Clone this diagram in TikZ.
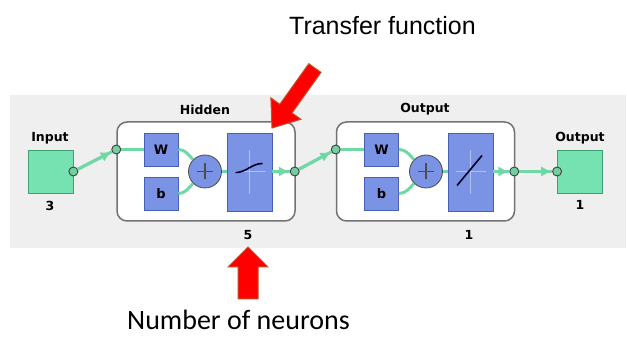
\documentclass[tikz,border=0pt]{standalone}
\usepackage{fontspec}
\usepackage{tikz}
\usetikzlibrary{arrows.meta}
\usetikzlibrary{positioning}
\pgfdeclarelayer{background layer}
\pgfsetlayers{background layer,main}
\newfontfamily\nnfont{DejaVu Sans}
\newfontfamily\arialfont{Liberation Sans}
\newfontfamily\califont{Carlito}
\definecolor{nngreen}{HTML}{76E2B2}
\definecolor{nngreenD}{HTML}{3E9E74}
\definecolor{nnblue}{HTML}{7A93E4}
\definecolor{nnblueD}{HTML}{4660B8}
\definecolor{nnlink}{HTML}{6FD9A6}
\definecolor{nnport}{HTML}{72CFA0}
\definecolor{nnbg}{HTML}{EFEFEF}
\definecolor{nncross}{HTML}{AFC2F2}
\definecolor{nnred}{HTML}{FF0000}
\definecolor{nnredD}{HTML}{C0502A}
\tikzset{basic/.style={draw=nnblueD,fill=nnblue,line width=0.8pt,inner sep=0pt}}
\tikzset{weight/.style={basic,minimum width=34pt,minimum height=33pt,font=\nnfont\bfseries\fontsize{13}{13}\selectfont}}
\tikzset{transfer/.style={basic,minimum width=45pt,minimum height=78pt}}
\tikzset{sum/.style={basic,circle,draw=black!70,minimum size=33pt,
  path picture={\draw[line width=1.8pt]
    ([xshift=-8pt]path picture bounding box.center) -- ([xshift=8pt]path picture bounding box.center)
    ([yshift=-8pt]path picture bounding box.center) -- ([yshift=8pt]path picture bounding box.center);}}}
\tikzset{io/.style={draw=nngreenD,fill=nngreen,line width=0.8pt,minimum width=45pt,minimum height=43pt}}
\tikzset{layer/.style={draw=black!55,fill=white,line width=1.5pt,rounded corners=10pt,minimum width=178pt,minimum height=99pt}}
\tikzset{port/.style={circle,draw=black!75,fill=nnport,line width=0.9pt,minimum size=9pt,inner sep=0pt}}
\tikzset{lbl/.style={font=\nnfont\bfseries\fontsize{12.5}{13}\selectfont,inner sep=0pt}}

\begin{document}
\begin{tikzpicture}[
		x=1pt, y=1pt, % one unit per pixel
		> = {Triangle[length=9pt,width=9pt]}, % arrow head style
		link/.style={draw=nnlink,line width=3pt}, % connector
		linkto/.style={link,postaction={draw,->,shorten >=2pt}},
		cross/.style={draw=nncross,line width=1pt},
		curve/.style={draw=black!85!blue,line width=1.6pt},
		bigarrow/.style={fill=nnred,draw=nnredD,line width=1pt}
		]
		
		\useasboundingbox (0,0) rectangle (627,337);
		\begin{pgfonlayer}{background layer}
		\fill[white] (0,0) rectangle (627,337);
		\fill[nnbg] (10,242) rectangle (626,89);
		\end{pgfonlayer}
		
		% Layers
		\node[layer] (hid) at (206,165.5) {};
		\node[layer] (outl) at (425.5,165.5) {};
		\node[io] (inp) at (50.5,165.5) {};
		\node[io] (outp) at (580,165.5) {};
		
		\node[weight] (w1) at (161,187.5) {W};
		\node[weight] (b1) at (161,143.5) {b};
		\node[sum] (s1) at (205,165.5) {};
		\node[transfer] (f1) at (249.5,165) {};
		
		\node[weight] (w2) at (381.5,187.5) {W};
		\node[weight] (b2) at (381.5,143.5) {b};
		\node[sum] (s2) at (426,165.5) {};
		\node[transfer] (f2) at (470.5,165) {};
		
		% Ports
		\node[port] (inpo) at (inp.east) {};
		\node[port] (hidi) at (hid.west |- w1) {};
		\node[port] (hido) at ([xshift=-1pt]hid.east) {};
		\node[port] (outi) at (outl.west |- w2) {};
		\node[port] (outo) at ([xshift=-1pt]outl.east) {};
		\node[port] (outpi) at (outp.west) {};
		
		% Labels
		\node[lbl] (inplbl) at (50,199) {Input};
		\node[lbl] (inpnum) at (50,131) {3};
		\node[lbl] (hidlbl) at (205,227) {Hidden};
		\node[lbl] (hidnum) at (248,102) {5};
		\node[lbl] (outllbl) at (425,228) {Output};
		\node[lbl] (outlnum) at (469,102) {1};
		\node[lbl] (outplbl) at (580,199) {Output};
		\node[lbl] (outpnum) at (580,132) {1};
		
		% Connectors
		\path[linkto] (inpo) -- (hidi);
		\path[link] (hidi) -- (w1);
		\path[link] (w1.east) to[out=0,in=135] (s1);
		\path[link] (b1.east) to[out=0,in=-135] (s1);
		\path[link] (s1) -- (f1.west |- s1);
		\path[linkto] (f1.east |- hido) -- (hido);
		\path[linkto] (hido) -- (outi);
		\path[link] (outi) -- (w2);
		\path[link] (w2.east) to[out=0,in=135] (s2);
		\path[link] (b2.east) to[out=0,in=-135] (s2);
		\path[link] (s2) -- (f2.west |- s2);
		\path[linkto] (f2.east |- outo) -- (outo);
		\path[linkto] (outo) -- (outpi);
		
		% Transfer functions
		\draw[cross] ([xshift=-15pt]f1.center) -- ([xshift=15pt]f1.center)
		  ([yshift=-22pt]f1.center) -- ([yshift=22pt]f1.center);
		\draw[curve] ([xshift=-14pt,yshift=-0.5pt]f1.center)
		  .. controls ([xshift=-3pt,yshift=-0.5pt]f1.center) and ([xshift=2pt,yshift=8.5pt]f1.center)
		  .. ([xshift=13pt,yshift=8.5pt]f1.center);
		\draw[cross] ([xshift=-15pt]f2.center) -- ([xshift=15pt]f2.center)
		  ([yshift=-22pt]f2.center) -- ([yshift=22pt]f2.center);
		\draw[curve] ([xshift=-13.5pt,yshift=-13.5pt]f2.center) -- ([xshift=11.5pt,yshift=16.5pt]f2.center);
		
		% Annotations
		\node[font=\arialfont\fontsize{25}{26}\selectfont,anchor=base,inner sep=0pt] (tflbl) at (382.5,302) {Transfer function};
		\node[font=\califont\fontsize{28}{29}\selectfont,anchor=base,inner sep=0pt] (nlbl) at (238.5,7) {Number of neurons};
		\draw[bigarrow] (272,209) -- (300.9,217.7) -- (292.0,224.0) -- (321.0,264.6)
		  -- (308.8,273.3) -- (279.8,232.7) -- (270.9,239.1) -- cycle;
		\draw[bigarrow] (248,90) -- (268,70) -- (258,70) -- (258,38) -- (238,38)
		  -- (238,70) -- (228,70) -- cycle;
		\end{tikzpicture}
\end{document}
